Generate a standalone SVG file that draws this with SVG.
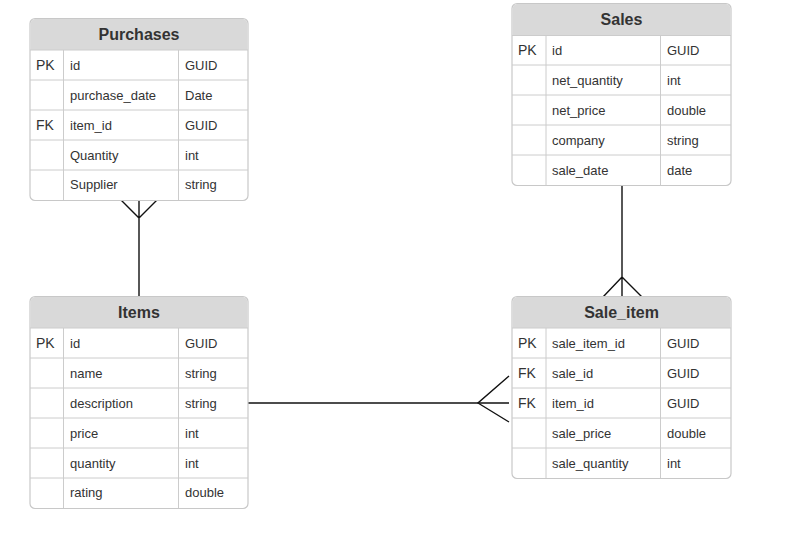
<svg xmlns="http://www.w3.org/2000/svg" width="810" height="538" viewBox="0 0 810 538">
<style>
.frame{fill:#ffffff;stroke:#c8c8c8;stroke-width:1.2}
.head{fill:#d9d9d9}
.grid{stroke:#cccccc;stroke-width:1;fill:none}
.title{font-family:"Liberation Sans",Arial,sans-serif;font-size:16px;font-weight:bold;fill:#333333;text-anchor:middle}
.t{font-family:"Liberation Sans",Arial,sans-serif;font-size:13px;fill:#333333}
.k{font-family:"Liberation Sans",Arial,sans-serif;font-size:14px;fill:#333333}
.conn{stroke:#111111;stroke-width:1.4;fill:none}
</style>
<rect width="810" height="538" fill="#ffffff"/>
<g id="connectors">
<path class="conn" d="M139 200V297M121 200L139 218L157 200"/>
<path class="conn" d="M622 185V297M603 297L622 277L642 297"/>
<path class="conn" d="M248 403H509" stroke="#555555"/>
<path class="conn" d="M509 376L478 403L509 422"/>
</g>
<g id="purchases">
<rect class="frame" x="30" y="18.5" width="218" height="182" rx="5"/>
<path class="head" d="M35 19.1H243A4.4 4.4 0 0 1 247.4 23.5V50H30.6V23.5A4.4 4.4 0 0 1 35 19.1Z"/>
<path class="grid" d="M30 50H248M30 80H248M30 110H248M30 140H248M30 170H248M63.5 50V200M178.5 50V200"/>
<text class="title" x="139" y="40">Purchases</text>
<text class="k" x="36" y="70">PK</text><text class="t" x="70" y="70">id</text><text class="t" x="185" y="70">GUID</text>
<text class="t" x="70" y="100">purchase_date</text><text class="t" x="185" y="100">Date</text>
<text class="k" x="36" y="130">FK</text><text class="t" x="70" y="130">item_id</text><text class="t" x="185" y="130">GUID</text>
<text class="t" x="70" y="160">Quantity</text><text class="t" x="185" y="160">int</text>
<text class="t" x="70" y="189">Supplier</text><text class="t" x="185" y="189">string</text>
</g>
<g id="sales">
<rect class="frame" x="512" y="3.5" width="219" height="182" rx="5"/>
<path class="head" d="M517 4.1H726A4.4 4.4 0 0 1 730.4 8.5V35.5H512.6V8.5A4.4 4.4 0 0 1 517 4.1Z"/>
<path class="grid" d="M512 35.5H731M512 65H731M512 95H731M512 125H731M512 155H731M546 35.5V185.5M660.5 35.5V185.5"/>
<text class="title" x="621.5" y="25">Sales</text>
<text class="k" x="518" y="55">PK</text><text class="t" x="552" y="55">id</text><text class="t" x="667" y="55">GUID</text>
<text class="t" x="552" y="85">net_quantity</text><text class="t" x="667" y="85">int</text>
<text class="t" x="552" y="115">net_price</text><text class="t" x="667" y="115">double</text>
<text class="t" x="552" y="145">company</text><text class="t" x="667" y="145">string</text>
<text class="t" x="552" y="175">sale_date</text><text class="t" x="667" y="175">date</text>
</g>
<g id="items">
<rect class="frame" x="30" y="296.5" width="218" height="212" rx="5"/>
<path class="head" d="M35 297.1H243A4.4 4.4 0 0 1 247.4 301.5V328H30.6V301.5A4.4 4.4 0 0 1 35 297.1Z"/>
<path class="grid" d="M30 328H248M30 358H248M30 388H248M30 418H248M30 448H248M30 478H248M63.5 328V508M178.5 328V508"/>
<text class="title" x="139" y="318">Items</text>
<text class="k" x="36" y="348">PK</text><text class="t" x="70" y="348">id</text><text class="t" x="185" y="348">GUID</text>
<text class="t" x="70" y="378">name</text><text class="t" x="185" y="378">string</text>
<text class="t" x="70" y="408">description</text><text class="t" x="185" y="408">string</text>
<text class="t" x="70" y="438">price</text><text class="t" x="185" y="438">int</text>
<text class="t" x="70" y="468">quantity</text><text class="t" x="185" y="468">int</text>
<text class="t" x="70" y="497">rating</text><text class="t" x="185" y="497">double</text>
</g>
<g id="sale_item">
<rect class="frame" x="512" y="296.5" width="219" height="182" rx="5"/>
<path class="head" d="M517 297.1H726A4.4 4.4 0 0 1 730.4 301.5V328H512.6V301.5A4.4 4.4 0 0 1 517 297.1Z"/>
<path class="grid" d="M512 328H731M512 358H731M512 388H731M512 418H731M512 448H731M546 328V478M660.5 328V478"/>
<text class="title" x="621.5" y="318">Sale_item</text>
<text class="k" x="518" y="348">PK</text><text class="t" x="552" y="348">sale_item_id</text><text class="t" x="667" y="348">GUID</text>
<text class="k" x="518" y="378">FK</text><text class="t" x="552" y="378">sale_id</text><text class="t" x="667" y="378">GUID</text>
<text class="k" x="518" y="408">FK</text><text class="t" x="552" y="408">item_id</text><text class="t" x="667" y="408">GUID</text>
<text class="t" x="552" y="438">sale_price</text><text class="t" x="667" y="438">double</text>
<text class="t" x="552" y="468">sale_quantity</text><text class="t" x="667" y="468">int</text>
</g>
</svg>
